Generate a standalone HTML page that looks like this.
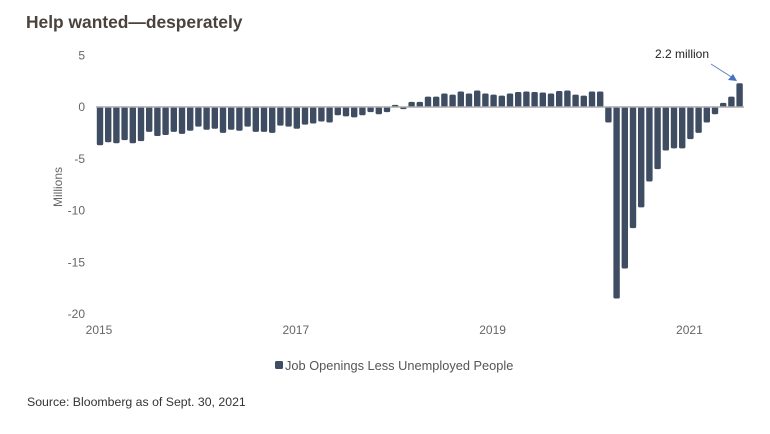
<!DOCTYPE html>
<html><head><meta charset="utf-8"><style>
body{margin:0;background:#fff;width:770px;height:429px;overflow:hidden;font-family:"Liberation Sans",sans-serif}
</style></head><body>
<svg width="770" height="429" xmlns="http://www.w3.org/2000/svg">
<text x="26" y="28" font-size="17.4" font-weight="bold" fill="#4a423c">Help wanted—desperately</text>
<g id="yaxis"></g>
<g id="xaxis"></g>
<text transform="translate(62,187) rotate(-90)" text-anchor="middle" font-size="12" fill="#666">Millions</text>
<g id="bars"></g>
<line x1="96" x2="744" y1="107" y2="107" stroke="#aaa" stroke-width="1.5"/>
<text x="682" y="58" text-anchor="middle" font-size="12" fill="#222">2.2 million</text>
<g><line x1="711" y1="64" x2="733" y2="78" stroke="#5b7fc7" stroke-width="1"/><polygon points="737,81 728,80 733,74" fill="#4472c4"/></g>
<g><rect x="275" y="361" width="8" height="8" rx="1.5" fill="#3f4d63"/><text x="285" y="370" font-size="12.8" fill="#555">Job Openings Less Unemployed People</text></g>
<text x="27" y="406" font-size="12.3" fill="#333">Source: Bloomberg as of Sept. 30, 2021</text>
</svg>
<script>
const values=[-3.7,-3.4,-3.5,-3.2,-3.5,-3.3,-2.4,-2.8,-2.7,-2.4,-2.6,-2.3,-1.9,-2.2,-2.1,-2.5,-2.2,-2.3,-1.9,-2.4,-2.4,-2.5,-1.8,-1.9,-2.1,-1.7,-1.6,-1.4,-1.5,-0.8,-0.9,-1.0,-0.8,-0.5,-0.7,-0.5,
0.2,-0.2,0.5,0.5,1.0,1.0,1.3,1.2,1.5,1.3,1.6,1.3,1.2,1.1,1.3,1.45,1.5,1.45,1.4,1.3,1.55,1.6,1.2,1.1,1.5,1.5,
-1.5,-18.5,-15.6,-11.7,-9.7,-7.2,-6.0,-4.2,-4.0,-4.0,-3.1,-2.5,-1.5,-0.7,0.4,1.0,2.3];
const yTicks=[5,0,-5,-10,-15,-20];
const xTicks=["2015","2017","2019","2021"];
const xTickIdx=[0,24,48,72];
const NS="http://www.w3.org/2000/svg";
function y(v){return 107-v*10.35;}
function x(i){return 100+i*8.2;}
const bars=document.getElementById('bars');
values.forEach((v,i)=>{
 const r=document.createElementNS(NS,'rect');
 r.setAttribute('x',x(i)-3.2);r.setAttribute('width',6.4);
 r.setAttribute('y',Math.min(y(v),y(0)));r.setAttribute('height',Math.abs(y(v)-y(0)));
 r.setAttribute('rx',1.5);r.setAttribute('fill','#3f4d63');
 
 
 bars.appendChild(r);
});
const ya=document.getElementById('yaxis');
yTicks.forEach(t=>{
 const e=document.createElementNS(NS,'text');
 e.setAttribute('x',85);e.setAttribute('y',y(t)+4);e.setAttribute('text-anchor','end');
 e.setAttribute('font-size',12);e.setAttribute('fill','#666');e.textContent=t;
 
 
 ya.appendChild(e);
});
const xa=document.getElementById('xaxis');
xTicks.forEach((t,k)=>{
 const e=document.createElementNS(NS,'text');
 e.setAttribute('x',x(xTickIdx[k])-1);e.setAttribute('y',334);e.setAttribute('text-anchor','middle');
 e.setAttribute('font-size',12);e.setAttribute('fill','#666');e.textContent=t;
 
 
 xa.appendChild(e);
});
</script>
</body></html>
